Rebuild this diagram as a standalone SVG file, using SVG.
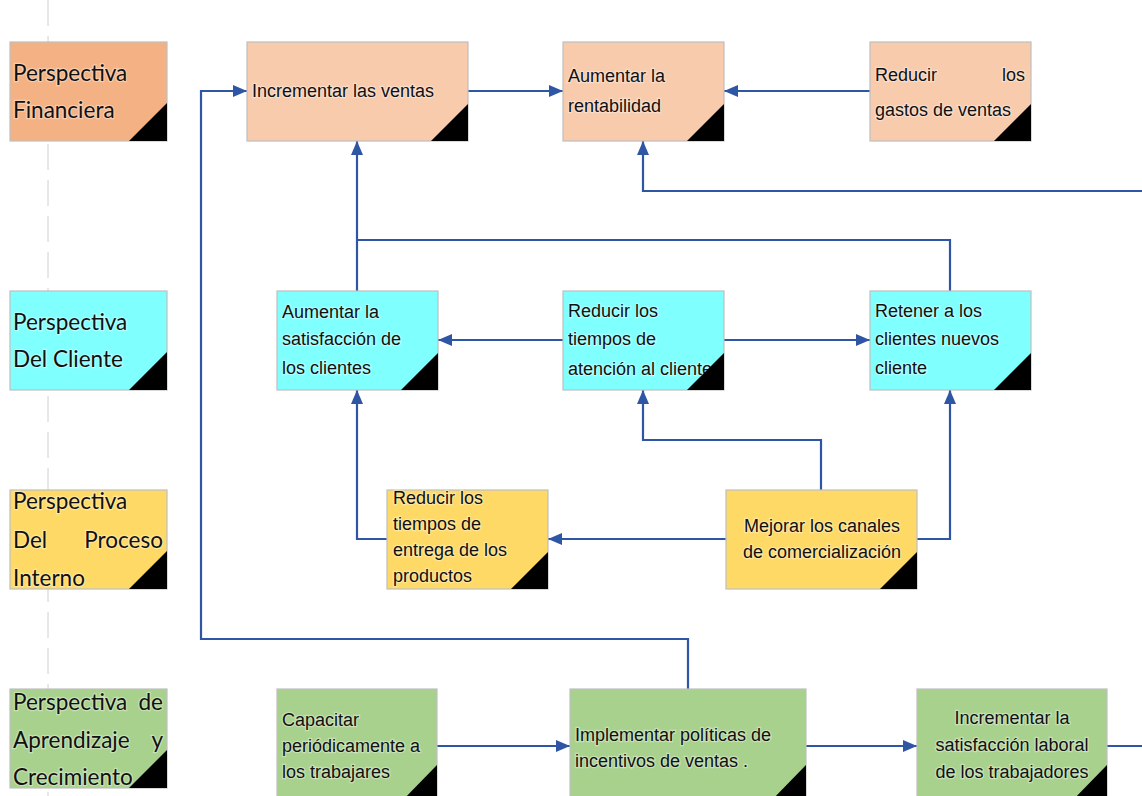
<svg xmlns="http://www.w3.org/2000/svg" width="1142" height="796" viewBox="0 0 1142 796">
<style>
.box{stroke:#BFBFBF;stroke-width:1.2}
.fin1{fill:#F4B183}.fin{fill:#F8CBAD}.cli{fill:#80FFFF}.pro{fill:#FFD966}.apr{fill:#A9D18E}
.tri{fill:#000}
.lbl{font-family:Lato,"Noto Sans",sans-serif;font-size:22.5px;fill:#111;stroke:#fff;stroke-opacity:.35;stroke-width:2.5;paint-order:stroke}
.t{font-family:"Liberation Sans",Arial,sans-serif;font-size:18px;fill:#111;stroke:#fff;stroke-opacity:.35;stroke-width:2.5;paint-order:stroke}
.c{text-anchor:middle}
.e{text-anchor:end}
.con{fill:none;stroke:#2F55A5;stroke-width:2.2}
</style>
<defs>
<marker id="ah" viewBox="0 0 14 12" refX="14" refY="6" markerWidth="14" markerHeight="12" markerUnits="userSpaceOnUse" orient="auto">
<path d="M0,0 L14,6 L0,12 z" fill="#2F55A5"/>
</marker>
</defs>
<rect width="1142" height="796" fill="#fff"/>
<line x1="48" y1="0" x2="48" y2="796" stroke="#D0D0D0" stroke-width="1" stroke-dasharray="26 10"/>

<g id="conectores">
<path class="con" d="M468,91 H563" marker-end="url(#ah)"/>
<path class="con" d="M870,91 H724" marker-end="url(#ah)"/>
<path class="con" d="M1142,191 H643 V141" marker-end="url(#ah)"/>
<path class="con" d="M357,291 V141" marker-end="url(#ah)"/>
<path class="con" d="M950,291 V240 H357"/>
<path class="con" d="M563,340 H438" marker-end="url(#ah)"/>
<path class="con" d="M724,340 H870" marker-end="url(#ah)"/>
<path class="con" d="M387,539 H357 V390" marker-end="url(#ah)"/>
<path class="con" d="M726,539 H548" marker-end="url(#ah)"/>
<path class="con" d="M821,490 V440 H643 V390" marker-end="url(#ah)"/>
<path class="con" d="M917,539 H950 V390" marker-end="url(#ah)"/>
<path class="con" d="M688,689 V639 H201 V91 H247" marker-end="url(#ah)"/>
<path class="con" d="M437,746 H570" marker-end="url(#ah)"/>
<path class="con" d="M806,746 H917" marker-end="url(#ah)"/>
<path class="con" d="M1107,746 H1142"/>
</g>

<g id="p-financiera">
<rect class="box fin1" x="10" y="42" width="157" height="99"/>
<text class="lbl" x="13" y="81">Perspectiva</text>
<text class="lbl" x="13" y="118">Financiera</text>
<path class="tri" d="M167,103 V141 H129 z"/>
</g>
<g id="p-cliente">
<rect class="box cli" x="10" y="291" width="157" height="99"/>
<text class="lbl" x="13" y="330">Perspectiva</text>
<text class="lbl" x="13" y="367">Del Cliente</text>
<path class="tri" d="M167,352 V390 H129 z"/>
</g>
<g id="p-proceso">
<rect class="box pro" x="10" y="490" width="157" height="99"/>
<text class="lbl" x="13" y="509">Perspectiva</text>
<text class="lbl" x="13" y="548">Del</text>
<text class="lbl e" x="163" y="548">Proceso</text>
<text class="lbl" x="13" y="586">Interno</text>
<path class="tri" d="M167,551 V589 H129 z"/>
</g>
<g id="p-aprendizaje">
<rect class="box apr" x="10" y="689" width="157" height="99"/>
<text class="lbl" x="13" y="710">Perspectiva</text>
<text class="lbl e" x="163" y="710">de</text>
<text class="lbl" x="13" y="748">Aprendizaje</text>
<text class="lbl e" x="163" y="748">y</text>
<text class="lbl" x="13" y="785">Crecimiento</text>
<path class="tri" d="M167,750 V788 H129 z"/>
</g>

<g id="n-incrementar-ventas">
<rect class="box fin" x="247" y="42" width="221" height="99"/>
<text class="t" x="252" y="97">Incrementar las ventas</text>
<path class="tri" d="M468,104 V141 H431 z"/>
</g>
<g id="n-rentabilidad">
<rect class="box fin" x="563" y="42" width="161" height="99"/>
<text class="t" x="568" y="82">Aumentar la</text>
<text class="t" x="568" y="112">rentabilidad</text>
<path class="tri" d="M724,104 V141 H687 z"/>
</g>
<g id="n-reducir-gastos">
<rect class="box fin" x="870" y="42" width="161" height="99"/>
<text class="t" x="875" y="81">Reducir</text>
<text class="t e" x="1025" y="81">los</text>
<text class="t" x="875" y="116">gastos de ventas</text>
<path class="tri" d="M1031,104 V141 H994 z"/>
</g>

<g id="n-satisfaccion-clientes">
<rect class="box cli" x="277" y="291" width="161" height="99"/>
<text class="t" x="282" y="318">Aumentar la</text>
<text class="t" x="282" y="345">satisfacción de</text>
<text class="t" x="282" y="374">los clientes</text>
<path class="tri" d="M438,353 V390 H401 z"/>
</g>
<g id="n-tiempos-atencion">
<rect class="box cli" x="563" y="291" width="161" height="99"/>
<text class="t" x="568" y="317">Reducir los</text>
<text class="t" x="568" y="345">tiempos de</text>
<text class="t" x="568" y="375">atención al cliente</text>
<path class="tri" d="M724,353 V390 H687 z"/>
</g>
<g id="n-retener">
<rect class="box cli" x="870" y="291" width="161" height="99"/>
<text class="t" x="875" y="317">Retener a los</text>
<text class="t" x="875" y="345">clientes nuevos</text>
<text class="t" x="875" y="374">cliente</text>
<path class="tri" d="M1031,353 V390 H994 z"/>
</g>

<g id="n-tiempos-entrega">
<rect class="box pro" x="387" y="490" width="161" height="99"/>
<text class="t" x="393" y="504">Reducir los</text>
<text class="t" x="393" y="530">tiempos de</text>
<text class="t" x="393" y="556">entrega de los</text>
<text class="t" x="393" y="582">productos</text>
<path class="tri" d="M548,552 V589 H511 z"/>
</g>
<g id="n-canales">
<rect class="box pro" x="726" y="490" width="191" height="99"/>
<text class="t c" x="822" y="532">Mejorar los canales</text>
<text class="t c" x="822" y="558">de comercialización</text>
<path class="tri" d="M917,552 V589 H880 z"/>
</g>

<g id="n-capacitar">
<rect class="box apr" x="277" y="689" width="160" height="114"/>
<text class="t" x="282" y="726">Capacitar</text>
<text class="t" x="282" y="752">periódicamente a</text>
<text class="t" x="282" y="778">los trabajares</text>
<path class="tri" d="M437,765 V803 H400 z"/>
</g>
<g id="n-incentivos">
<rect class="box apr" x="570" y="689" width="236" height="114"/>
<text class="t" x="575" y="741">Implementar políticas de</text>
<text class="t" x="575" y="767">incentivos de ventas .</text>
<path class="tri" d="M806,765 V803 H769 z"/>
</g>
<g id="n-satisfaccion-laboral">
<rect class="box apr" x="917" y="689" width="190" height="114"/>
<text class="t c" x="1012" y="724">Incrementar la</text>
<text class="t c" x="1012" y="751">satisfacción laboral</text>
<text class="t c" x="1012" y="778">de los trabajadores</text>
<path class="tri" d="M1107,765 V803 H1070 z"/>
</g>
</svg>
